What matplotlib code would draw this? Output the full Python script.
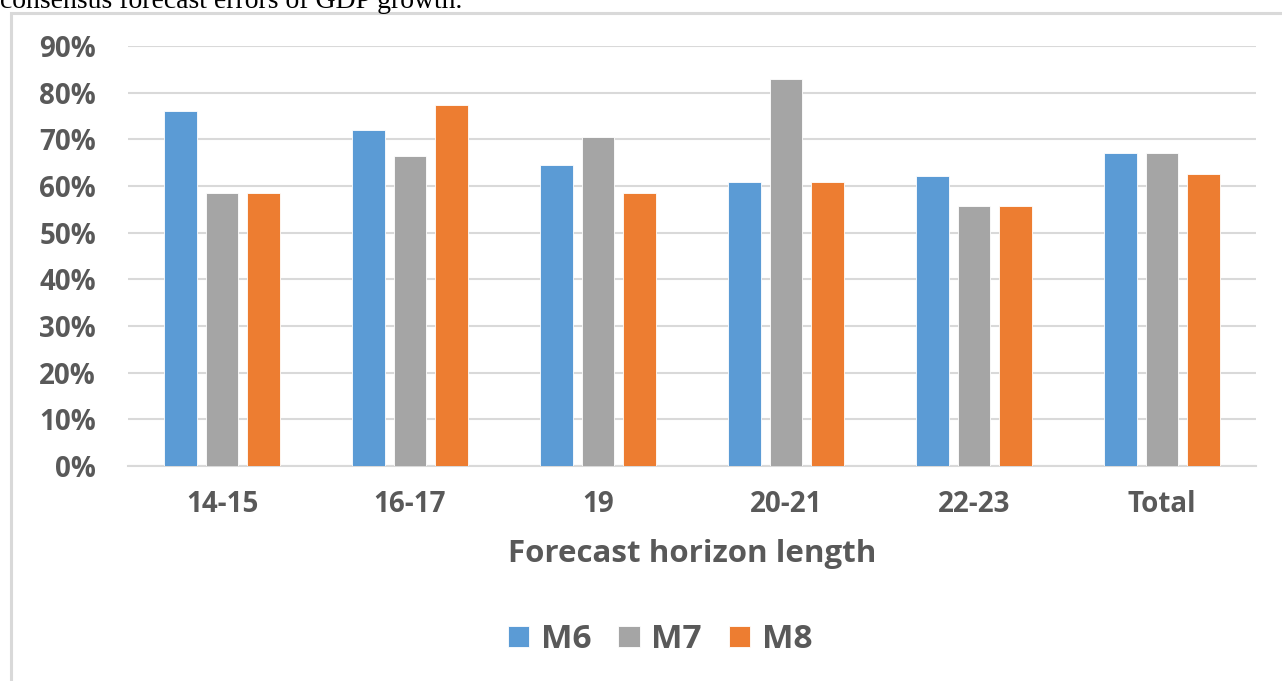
import numpy as np
import matplotlib
matplotlib.use("Agg")
import matplotlib.pyplot as plt
from matplotlib.patches import Rectangle

# ---- data ----
categories = ["14-15", "16-17", "19", "20-21", "22-23", "Total"]
m6 = [76.1, 72.0, 64.6, 60.8, 62.2, 67.1]
m7 = [58.4, 66.4, 70.4, 82.9, 55.8, 67.1]
m8 = [58.4, 77.4, 58.4, 60.8, 55.8, 62.6]
series_names = ["M6", "M7", "M8"]
colors = ["#5B9BD5", "#A5A5A5", "#ED7D31"]
yticks = [0, 10, 20, 30, 40, 50, 60, 70, 80, 90]

TXT = "#595959"
GRID = "#D9D9D9"
FONT = "Open Sans"

fig = plt.figure(figsize=(12.82, 6.81), dpi=100)
fig.patch.set_facecolor("white")

# caption line cut off at the top of the page
fig.text(0.0, 1 - 8 / 681, "consensus forecast errors of GDP growth.",
         family="Liberation Serif", fontsize=20, color="black",
         ha="left", va="baseline")

# chart frame
fig.patches.append(Rectangle((10.5 / 1282, -0.1), 1.2, 1 - 12.5 / 681 + 0.1,
                             transform=fig.transFigure, fill=False,
                             edgecolor=GRID, linewidth=2.2, zorder=0))

ax = fig.add_axes([128 / 1282, 1 - 466 / 681, (1256 - 128) / 1282, 420 / 681])
x = np.arange(len(categories))
width = 0.175
offset = 0.22
for i, (vals, name, c) in enumerate(zip([m6, m7, m8], series_names, colors)):
    ax.bar(x + (i - 1) * offset, vals, width, color=c, label=name,
           edgecolor="white", linewidth=0.6, zorder=3)

ax.set_xlim(-0.5, len(categories) - 0.5)
ax.set_ylim(0, 90)
ax.set_yticks(yticks)
ax.set_yticklabels([f"{v}%" for v in yticks])
ax.set_xticks(x)
ax.set_xticklabels(categories)
ax.yaxis.grid(True, color=GRID, linewidth=1.5, zorder=0)
ax.set_axisbelow(True)
for s in ["top", "right", "left"]:
    ax.spines[s].set_visible(False)
ax.spines["bottom"].set_color(GRID)
ax.spines["bottom"].set_linewidth(1.5)
ax.tick_params(axis="both", length=0, colors=TXT)
ax.tick_params(axis="y", pad=23)
ax.tick_params(axis="x", pad=17)
for lab in ax.get_xticklabels() + ax.get_yticklabels():
    lab.set_family(FONT)
    lab.set_fontweight("bold")
    lab.set_fontsize(20)
    lab.set_color(TXT)

fig.text(692 / 1282, 1 - 562 / 681, "Forecast horizon length", family=FONT,
         fontweight="bold", fontsize=22.5, color=TXT, ha="center", va="baseline")

leg = fig.legend(loc="center", bbox_to_anchor=(660 / 1282, 1 - 640 / 681), ncol=3,
                 frameon=False, prop={"family": FONT, "weight": "bold", "size": 24},
                 handlelength=0.65, handleheight=0.6, handletextpad=0.35,
                 columnspacing=0.8, labelcolor=TXT)

fig.savefig("out.png", dpi=100)
